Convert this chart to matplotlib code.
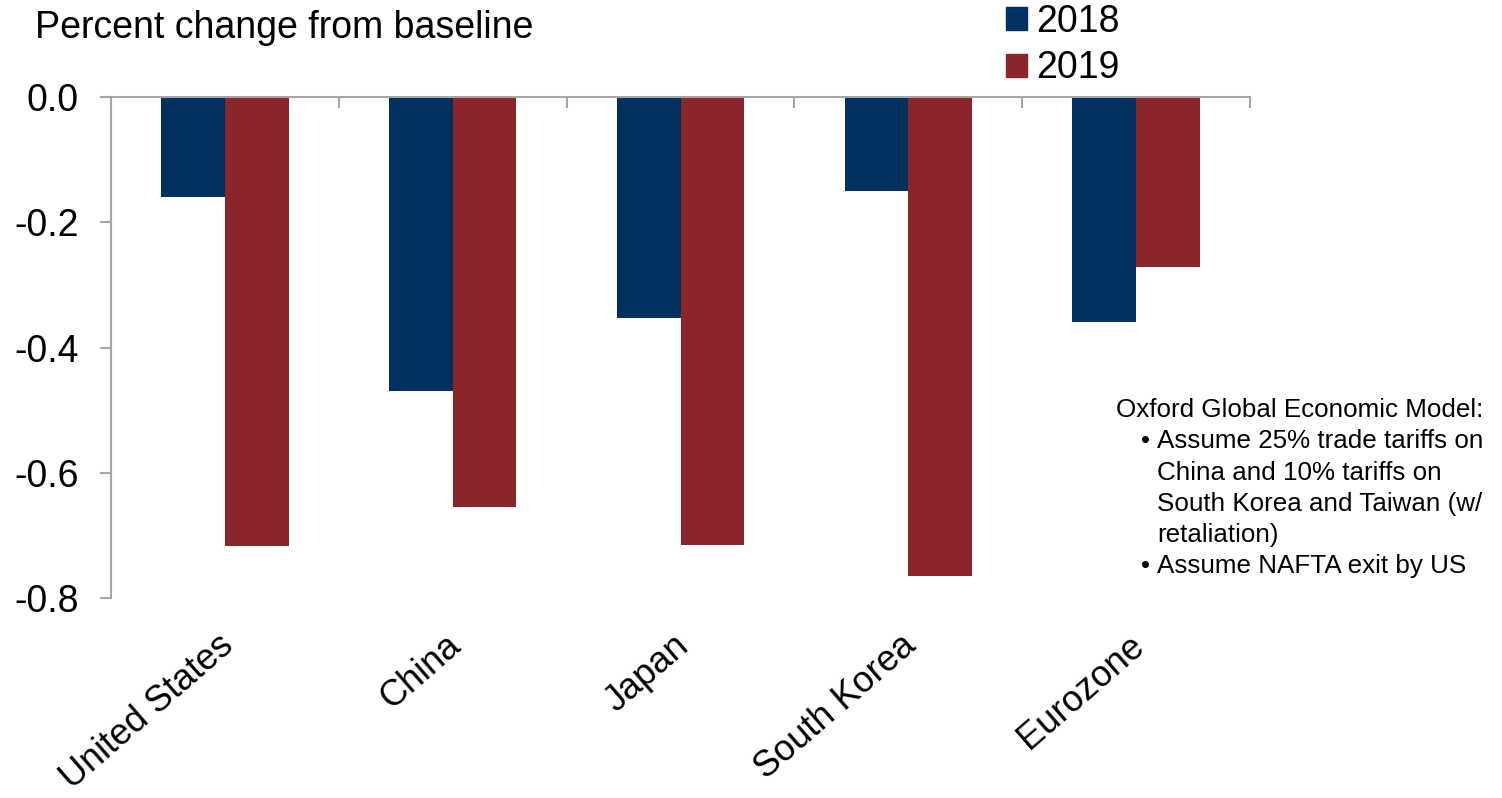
import matplotlib
matplotlib.use("Agg")
import matplotlib.pyplot as plt
import matplotlib.transforms as mtransforms
from matplotlib.patches import Patch
import numpy as np

plt.rcParams['font.family'] = ['Liberation Sans', 'DejaVu Sans']
plt.rcParams['axes.unicode_minus'] = False

# Data
countries = ["United States", "China", "Japan", "South Korea", "Eurozone"]
years = ["2018", "2019"]
values_2018 = [-0.16, -0.47, -0.353, -0.15, -0.359]
values_2019 = [-0.717, -0.655, -0.715, -0.765, -0.272]
y_ticks = [0.0, -0.2, -0.4, -0.6, -0.8]
note_title = "Oxford Global Economic Model:"
note_lines = [
    ("\u2022", "Assume 25% trade tariffs on"),
    ("", "China and 10% tariffs on"),
    ("", "South Korea and Taiwan (w/"),
    ("", "retaliation)"),
    ("\u2022", "Assume NAFTA exit by US"),
]

navy = "#03315F"
maroon = "#8A262B"
axis_grey = "#A6A6A6"

W, H = 1502, 798
fig = plt.figure(figsize=(W / 100, H / 100), dpi=100)
ax = fig.add_axes([111 / W, 1 - 598 / H, (1250 - 111) / W, (598 - 97) / H])

x = np.arange(len(countries))
bw = 0.28
ax.bar(x - bw / 2, values_2018, bw, color=navy, label=years[0], zorder=2)
ax.bar(x + bw / 2, values_2019, bw, color=maroon, label=years[1], zorder=2)

ax.set_xlim(-0.5, len(countries) - 0.5)
ax.set_ylim(-0.8, 0)

for side in ["right", "bottom"]:
    ax.spines[side].set_visible(False)
for side in ["left", "top"]:
    ax.spines[side].set_color(axis_grey)
    ax.spines[side].set_linewidth(1.5)
    ax.spines[side].set_zorder(3)

ax.set_yticks(y_ticks)
ax.set_yticklabels([f"{v:.1f}" for v in y_ticks])
ax.tick_params(axis="y", length=8, width=1.5, color=axis_grey, direction="out",
               labelsize=27, pad=15)

# category boundary ticks hanging from the zero line
ax.set_xticks([])
ax.set_xticks(np.arange(-0.5, len(countries)), minor=True)
ax.tick_params(axis="x", which="minor", top=True, bottom=False, direction="in",
               length=8, width=1.5, color=axis_grey, labelbottom=False, labeltop=False)

# rotated category labels
offset = mtransforms.ScaledTranslation(-8 / 100, -30 / 100, fig.dpi_scale_trans)
for i, name in enumerate(countries):
    ax.text(i, 0, name, transform=ax.get_xaxis_transform() + offset,
            rotation=41, rotation_mode="anchor", ha="right", va="top", fontsize=26)

fig.text(35 / W, 1 - 38 / H, "Percent change from baseline", fontsize=27,
         ha="left", va="baseline")

handles = [Patch(color=navy), Patch(color=maroon)]
fig.legend(handles, years, loc="upper left", bbox_to_anchor=(1006 / W, 1 - 4 / H),
           frameon=False, fontsize=27, handlelength=0.56, handleheight=0.56,
           handletextpad=0.24, labelspacing=0.28, borderpad=0, borderaxespad=0)

base = 417
step = 31.3
fig.text(1116 / W, 1 - base / H, note_title, fontsize=18.7, ha="left", va="baseline")
for k, (bullet, line) in enumerate(note_lines, start=1):
    yb = 1 - (base + step * k) / H
    if bullet:
        fig.text(1146 / W, yb, bullet, fontsize=18.7, ha="center", va="baseline")
    fig.text(1157 / W, yb, line, fontsize=18.7, ha="left", va="baseline")

fig.savefig("out.png", dpi=100)
